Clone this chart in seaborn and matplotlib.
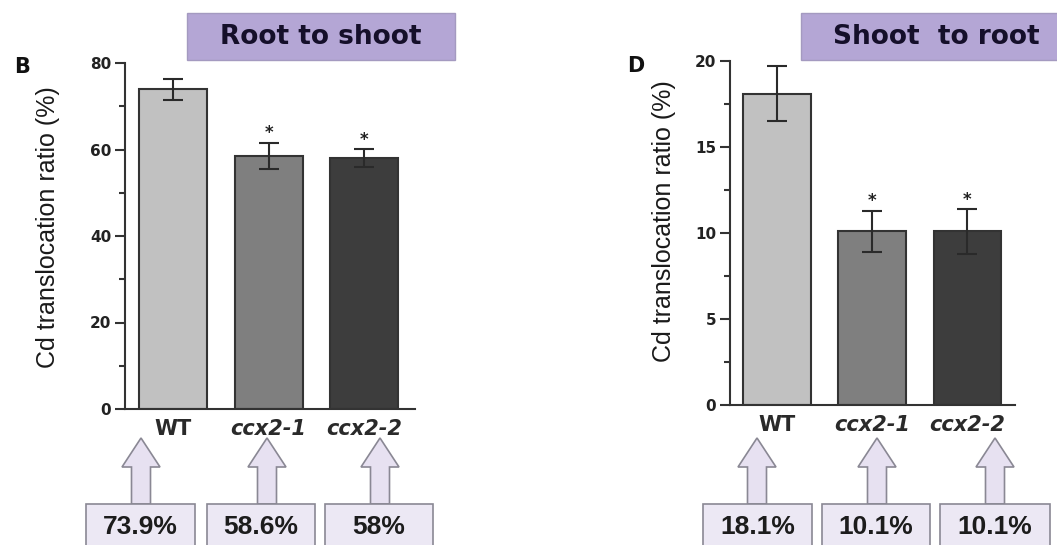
import matplotlib
matplotlib.use("Agg")
import matplotlib.pyplot as plt
import matplotlib.transforms as mtransforms
import pandas as pd
import seaborn as sns
from matplotlib.patches import Rectangle, Polygon
from matplotlib.ticker import MultipleLocator

# data
genotypes = ["WT", "ccx2-1", "ccx2-2"]
root_to_shoot = [73.9, 58.6, 58.0]
root_to_shoot_err = [2.4, 3.0, 2.05]
shoot_to_root = [18.1, 10.1, 10.1]
shoot_to_root_err = [1.6, 1.2, 1.3]
significant = [False, True, True]
root_labels = ["73.9%", "58.6%", "58%"]
shoot_labels = ["18.1%", "10.1%", "10.1%"]
bar_colors = ["#c1c1c1", "#7f7f7f", "#3d3d3d"]

W, H = 1057, 545

sns.set_style("ticks")
plt.rcParams["font.family"] = ["DejaVu Sans"]

fig = plt.figure(figsize=(W / 100, H / 100), dpi=100)
# pixel coordinates (y down) -> figure
px = mtransforms.Affine2D().scale(1 / W, -1 / H).translate(0, 1) + fig.transFigure


def draw_panel(ax, values, errs, ymax, step, xlim, label_xy):
    df = pd.DataFrame({"genotype": genotypes, "value": values})
    sns.barplot(data=df, x="genotype", y="value", hue="genotype",
                palette=bar_colors, order=genotypes, width=0.71,
                edgecolor="#333333", linewidth=1.5, legend=False, ax=ax)
    ax.errorbar(range(len(values)), values, yerr=errs, fmt="none",
                ecolor="#2a2a2a", elinewidth=1.5, capsize=7, capthick=1.5,
                zorder=4, clip_on=False)
    for i, (v, e, s) in enumerate(zip(values, errs, significant)):
        if s:
            ax.annotate("*", xy=(i, v + e), xytext=(0, 3),
                        textcoords="offset points", ha="center",
                        va="baseline", fontsize=12, fontweight="bold",
                        color="#222222")
    ax.set_ylim(0, ymax)
    ax.set_xlim(*xlim)
    ax.yaxis.set_major_locator(MultipleLocator(step))
    ax.yaxis.set_minor_locator(MultipleLocator(step / 2))
    ax.tick_params(axis="y", which="major", length=7, width=1.5,
                   direction="out", labelsize=11, pad=3, color="#333333")
    ax.tick_params(axis="y", which="minor", length=4, width=1.5,
                   direction="out", color="#333333")
    ax.tick_params(axis="x", length=0, pad=7)
    for lbl in ax.get_yticklabels():
        lbl.set_fontweight("bold")
        lbl.set_color("#222222")
    for lbl in ax.get_xticklabels():
        lbl.set_fontweight("bold")
        lbl.set_fontsize(15)
        lbl.set_color("#2a2a2a")
        if lbl.get_text() != "WT":
            lbl.set_fontstyle("italic")
    ax.set_xlabel("")
    ax.set_ylabel("Cd translocation ratio (%)", family="Liberation Sans",
                  fontsize=18, color="#1a1a1a")
    ax.yaxis.set_label_coords(*label_xy)
    sns.despine(ax=ax)
    for side in ["left", "bottom"]:
        ax.spines[side].set_linewidth(1.5)
        ax.spines[side].set_color("#333333")


def draw_title(x0, x1, xc, text):
    fig.patches.append(Rectangle((x0, 13), x1 - x0, 47, transform=px,
                                 facecolor="#b4a6d5", edgecolor="#a49ac0",
                                 linewidth=1))
    fig.text(xc, 37, text, transform=px, ha="center", va="center",
             fontsize=19, fontweight="bold", color="#150f2a")


def draw_callouts(tips, boxes, labels):
    for tx, (b0, b1), lab in zip(tips, boxes, labels):
        arrow = [(tx, 438), (tx + 19, 467), (tx + 9.5, 467), (tx + 9.5, 504),
                 (tx - 9.5, 504), (tx - 9.5, 467), (tx - 19, 467)]
        fig.patches.append(Polygon(arrow, closed=True, transform=px,
                                   facecolor="#e7e1f1", edgecolor="#8a8894",
                                   linewidth=1.2))
        fig.patches.append(Rectangle((b0, 504), b1 - b0, 60, transform=px,
                                     facecolor="#ece8f4", edgecolor="#8a8894",
                                     linewidth=1.2))
        fig.text((b0 + b1) / 2, 527, lab, transform=px, ha="center",
                 va="center", fontsize=19, fontweight="bold",
                 family="Liberation Sans", color="#1c1c1c")


ax1 = fig.add_axes([125 / W, (H - 409) / H, 290 / W, 346 / H])
draw_panel(ax1, root_to_shoot, root_to_shoot_err, 80, 20, (-0.50, 2.53),
           (-0.224, 0.525))

ax2 = fig.add_axes([730 / W, (H - 405) / H, 285 / W, 344 / H])
draw_panel(ax2, shoot_to_root, shoot_to_root_err, 20, 5, (-0.49, 2.50),
           (-0.19, 0.535))

draw_title(187, 455, 321, "Root to shoot")
draw_title(801, 1070, 936, "Shoot  to root")

fig.text(22, 67, "B", transform=px, ha="center", va="center",
         fontsize=15, fontweight="bold", color="#111111")
fig.text(636, 66, "D", transform=px, ha="center", va="center",
         fontsize=15, fontweight="bold", color="#111111")

draw_callouts([141, 267, 380], [(86, 195), (207, 315), (325, 433)], root_labels)
draw_callouts([757, 877, 995], [(703, 812), (822, 930), (940, 1050)], shoot_labels)

fig.savefig("out.png", dpi=100)
